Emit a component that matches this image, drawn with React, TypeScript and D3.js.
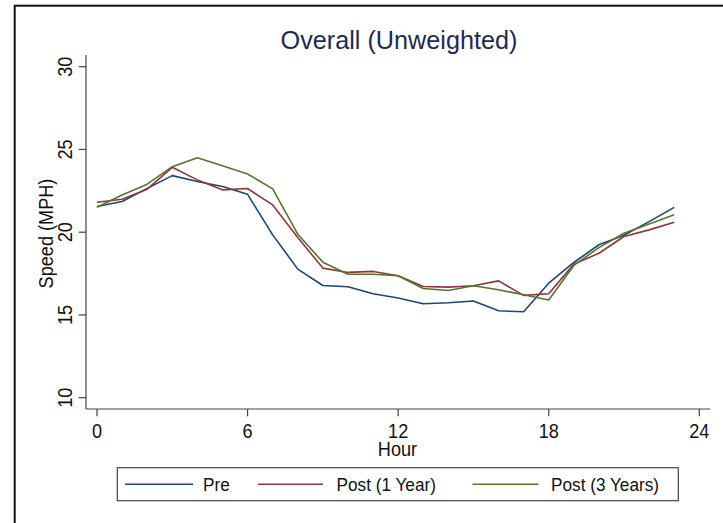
import React from "react";
import * as d3 from "d3";

const hours = d3.range(0, 24);
const pre = [21.55, 21.85, 22.65, 23.42, 23.06, 22.76, 22.29, 19.84, 17.77, 16.78, 16.7, 16.28, 16.02, 15.68, 15.74, 15.84, 15.25, 15.19, 16.92, 18.17, 19.24, 19.82, 20.64, 21.5];
const post1 = [21.81, 21.99, 22.6, 23.92, 23.16, 22.56, 22.64, 21.65, 19.68, 17.83, 17.57, 17.63, 17.37, 16.72, 16.68, 16.76, 17.06, 16.18, 16.28, 18.07, 18.73, 19.74, 20.14, 20.6];
const post3 = [21.51, 22.25, 22.9, 23.96, 24.5, 24.02, 23.52, 22.62, 19.88, 18.19, 17.46, 17.46, 17.37, 16.6, 16.48, 16.76, 16.52, 16.22, 15.9, 17.99, 19.07, 19.94, 20.5, 21.05];
const xTicks = [0, 6, 12, 18, 24];
const yTicks = [10, 15, 20, 25, 30];
const seriesNames = ["Pre", "Post (1 Year)", "Post (3 Years)"];
const seriesColors = ["#1a476f", "#90353b", "#55752f"];

const W = 723;
const H = 523;
const FONT = "Arial, 'Liberation Sans', sans-serif";
const SX = 0.93;

export default function App() {
  const x = d3.scaleLinear().domain([0, 24]).range([97, 699.3]);
  const y = d3.scaleLinear().domain([10, 30]).range([397.7, 66.7]);
  const axisX = 86;
  const axisY = 409;
  const line = d3
    .line<number>()
    .x((_, i) => x(hours[i]))
    .y((d) => y(d));
  const series = [pre, post1, post3];

  const legendLines = [
    { x1: 125, x2: 193, tx: 203 },
    { x1: 258, x2: 323, tx: 336.5 },
    { x1: 472.5, x2: 538.5, tx: 551 },
  ];

  return (
    <div style={{ position: "absolute", left: 0, top: 0 }}>
      <svg width={W} height={H} style={{ display: "block", background: "#fff" }}>
        <rect x={0} y={0} width={W} height={H} fill="#fff" />
        <rect x={14.7} y={5.7} width={W + 20} height={H + 20} fill="#fff" stroke="#111" strokeWidth={2} />
        <text
          transform={`translate(399,49.3) scale(0.97,1)`}
          textAnchor="middle"
          fontFamily={FONT}
          fontSize={26}
          fill="#1e2a52"
        >
          Overall (Unweighted)
        </text>
        {/* y axis */}
        <line x1={axisX} x2={axisX} y1={55} y2={axisY} stroke="#444" strokeWidth={1.2} />
        {yTicks.map((t) => (
          <g key={"y" + t}>
            <line x1={axisX - 7.3} x2={axisX} y1={y(t)} y2={y(t)} stroke="#444" strokeWidth={1.2} />
            <text
              transform={`translate(71.7,${y(t)}) rotate(-90) scale(${SX},1)`}
              textAnchor="middle"
              fontFamily={FONT}
              fontSize={19.5}
              fill="#111"
            >
              {t}
            </text>
          </g>
        ))}
        <text
          transform={`translate(52.5,233.5) rotate(-90) scale(${SX},1)`}
          textAnchor="middle"
          fontFamily={FONT}
          fontSize={19.5}
          fill="#111"
        >
          Speed (MPH)
        </text>
        {/* x axis */}
        <line x1={axisX} x2={710} y1={axisY} y2={axisY} stroke="#444" strokeWidth={1.2} />
        {xTicks.map((t) => (
          <g key={"x" + t}>
            <line x1={x(t)} x2={x(t)} y1={axisY} y2={axisY + 7.3} stroke="#444" strokeWidth={1.2} />
            <text
              transform={`translate(${x(t)},437.5) scale(${SX},1)`}
              textAnchor="middle"
              fontFamily={FONT}
              fontSize={19.5}
              fill="#111"
            >
              {t}
            </text>
          </g>
        ))}
        <text
          transform={`translate(397.5,456) scale(${SX},1)`}
          textAnchor="middle"
          fontFamily={FONT}
          fontSize={19.5}
          fill="#111"
        >
          Hour
        </text>
        {/* series */}
        {series.map((s, i) => (
          <path key={i} d={line(s) || ""} fill="none" stroke={seriesColors[i]} strokeWidth={1.6} strokeLinejoin="round" />
        ))}
        {/* legend */}
        <rect x={117.3} y={467.7} width={561} height={33} fill="#fff" stroke="#444" strokeWidth={1.2} />
        {legendLines.map((l, i) => (
          <g key={"l" + i}>
            <line x1={l.x1} x2={l.x2} y1={484.2} y2={484.2} stroke={seriesColors[i]} strokeWidth={1.6} />
            <text
              transform={`translate(${l.tx},490.8) scale(${SX},1)`}
              fontFamily={FONT}
              fontSize={18.5}
              fill="#111"
            >
              {seriesNames[i]}
            </text>
          </g>
        ))}
      </svg>
    </div>
  );
}
